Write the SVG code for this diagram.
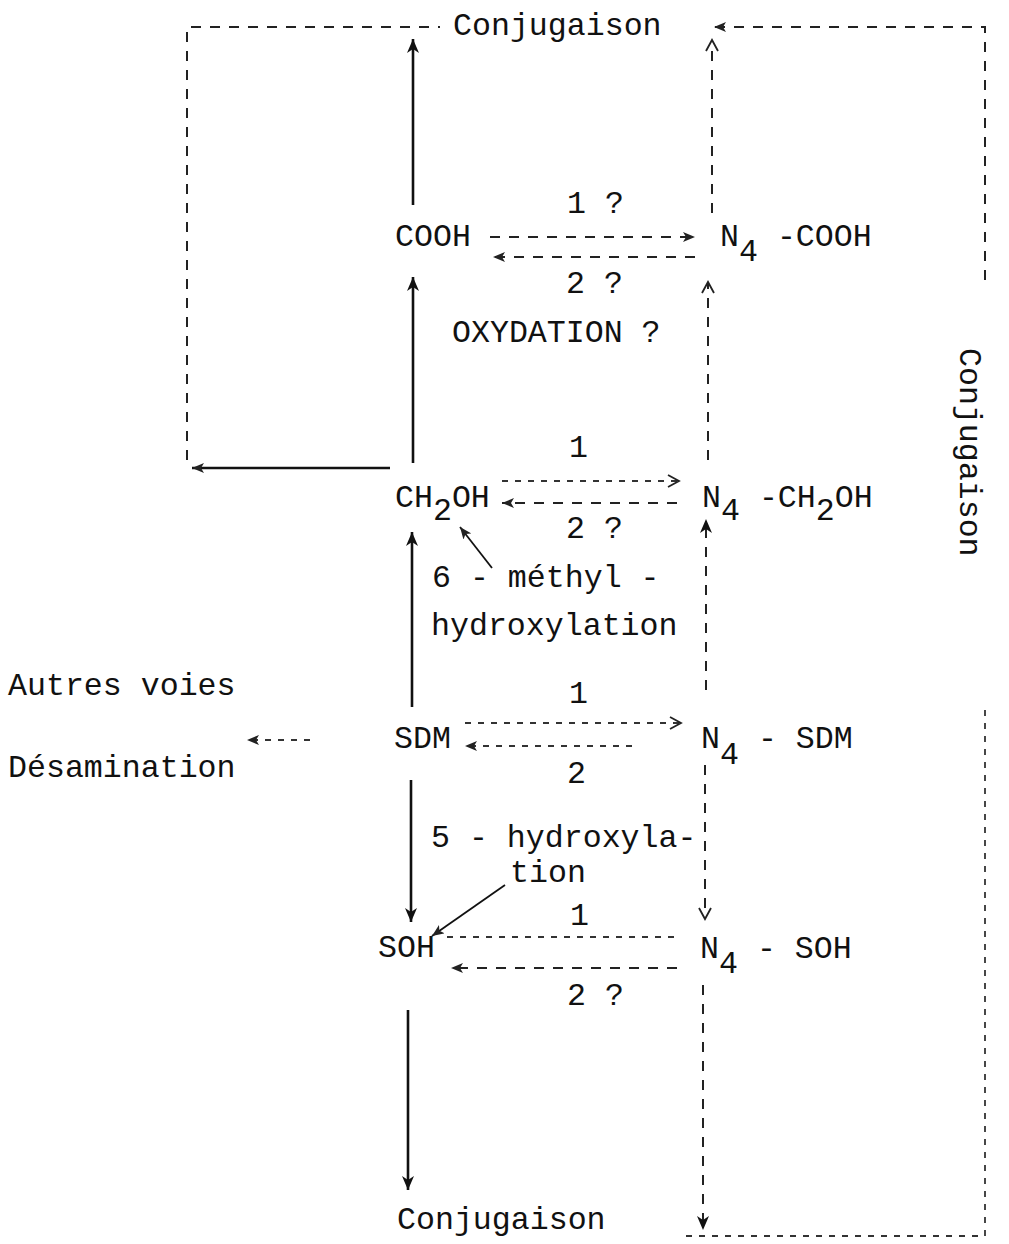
<svg xmlns="http://www.w3.org/2000/svg" width="1009" height="1244" viewBox="0 0 1009 1244">
<style>
text{font-family:"Liberation Mono","DejaVu Sans Mono",monospace;font-size:31.6px;fill:#111}
.s{fill:none;stroke:#111;stroke-width:2.6}
.d{fill:none;stroke:#222;stroke-width:2;stroke-dasharray:10 9}
.dt{fill:none;stroke:#333;stroke-width:1.8;stroke-dasharray:6 7}
.th{fill:none;stroke:#111;stroke-width:1.8}
</style>
<defs>
<marker id="ah" markerUnits="userSpaceOnUse" markerWidth="16" markerHeight="12" refX="14" refY="6" orient="auto">
<path d="M0,0 L14,6 L0,12 L4,6 z" fill="#111"/>
</marker>
<marker id="ahs" markerUnits="userSpaceOnUse" markerWidth="14" markerHeight="10" refX="12" refY="5" orient="auto">
<path d="M0,0 L12,5 L0,10 L3,5 z" fill="#222"/>
</marker>
<marker id="chev" markerUnits="userSpaceOnUse" markerWidth="14" markerHeight="14" refX="12" refY="7" orient="auto">
<path d="M1,1 L12,7 L1,13" fill="none" stroke="#222" stroke-width="1.8"/>
</marker>
</defs>

<g id="connectors">
<!-- main column solid -->
<path class="s" d="M413,205 V39" marker-end="url(#ah)"/>
<path class="s" d="M413,463 V277" marker-end="url(#ah)"/>
<path class="s" d="M412,707 V532" marker-end="url(#ah)"/>
<path class="s" d="M411,780 V922" marker-end="url(#ah)"/>
<path class="s" d="M408,1010 V1190" marker-end="url(#ah)"/>
<!-- left loop to top conjugaison -->
<path class="s" d="M390,468 H192" marker-end="url(#ahs)"/>
<path class="d" d="M187,460 V27 H440"/>
<!-- annotation arrows -->
<path class="th" d="M492,568 L460,527" marker-end="url(#ahs)"/>
<path class="th" d="M505,885 L432,936" marker-end="url(#ahs)"/>
<!-- N4 column -->
<path class="d" d="M712,213 V40" marker-end="url(#chev)"/>
<path class="d" d="M708,460 V282" marker-end="url(#chev)"/>
<path class="d" d="M706,690 V519" marker-end="url(#ah)"/>
<path class="d" d="M705,765 V919" marker-end="url(#chev)"/>
<path class="d" d="M703,985 V1230" marker-end="url(#ah)"/>
<!-- right loop -->
<path class="d" d="M985,280 V27 H714" marker-end="url(#ahs)"/>
<path class="dt" d="M985,710 V1236 H680"/>
<!-- horizontal exchanges -->
<path class="d" d="M490,237 H695" marker-end="url(#ahs)"/>
<path class="d" d="M695,257 H493" marker-end="url(#ahs)"/>
<path class="dt" d="M502,481 H679" marker-end="url(#chev)"/>
<path class="d" d="M677,503 H502" marker-end="url(#ahs)"/>
<path class="dt" d="M465,723 H681" marker-end="url(#chev)"/>
<path class="dt" d="M632,746 H465" marker-end="url(#ahs)"/>
<path class="dt" d="M447,937 H680"/>
<path class="d" d="M677,968 H451" marker-end="url(#ahs)"/>
<path class="dt" d="M310,740 H247" marker-end="url(#ahs)"/>
</g>

<g id="conj-top"><text x="453" y="35">Conjugaison</text></g>
<g id="conj-bottom"><text x="397" y="1229">Conjugaison</text></g>
<g id="conj-right"><text transform="translate(960,348) rotate(90)" x="0" y="0">Conjugaison</text></g>

<g id="cooh"><text x="395" y="246">COOH</text></g>
<g id="n4-cooh"><text x="720" y="246">N<tspan dy="15">4</tspan><tspan dy="-15"> -COOH</tspan></text></g>
<g id="lbl-cooh"><text x="567" y="213">1 ?</text><text x="566" y="293">2 ?</text><text x="452" y="342">OXYDATION ?</text></g>

<g id="ch2oh"><text x="395" y="507">CH<tspan dy="13">2</tspan><tspan dy="-13">OH</tspan></text></g>
<g id="n4-ch2oh"><text x="702" y="507">N<tspan dy="13">4</tspan><tspan dy="-13"> -CH</tspan><tspan dy="13">2</tspan><tspan dy="-13">OH</tspan></text></g>
<g id="lbl-ch2oh"><text x="569" y="457">1</text><text x="566" y="538">2 ?</text>
<text x="432" y="587">6 - méthyl -</text><text x="431" y="635">hydroxylation</text></g>

<g id="autres"><text x="8" y="695">Autres voies</text><text x="8" y="777">Désamination</text></g>
<g id="sdm"><text x="394" y="748">SDM</text></g>
<g id="n4-sdm"><text x="701" y="748">N<tspan dy="16">4</tspan><tspan dy="-16"> - SDM</tspan></text></g>
<g id="lbl-sdm"><text x="569" y="703">1</text><text x="567" y="783">2</text>
<text x="431" y="847">5 - hydroxyla-</text><text x="510" y="882">tion</text></g>

<g id="soh"><text x="378" y="957">SOH</text></g>
<g id="n4-soh"><text x="700" y="958">N<tspan dy="15">4</tspan><tspan dy="-15"> - SOH</tspan></text></g>
<g id="lbl-soh"><text x="570" y="925">1</text><text x="567" y="1005">2 ?</text></g>
</svg>
